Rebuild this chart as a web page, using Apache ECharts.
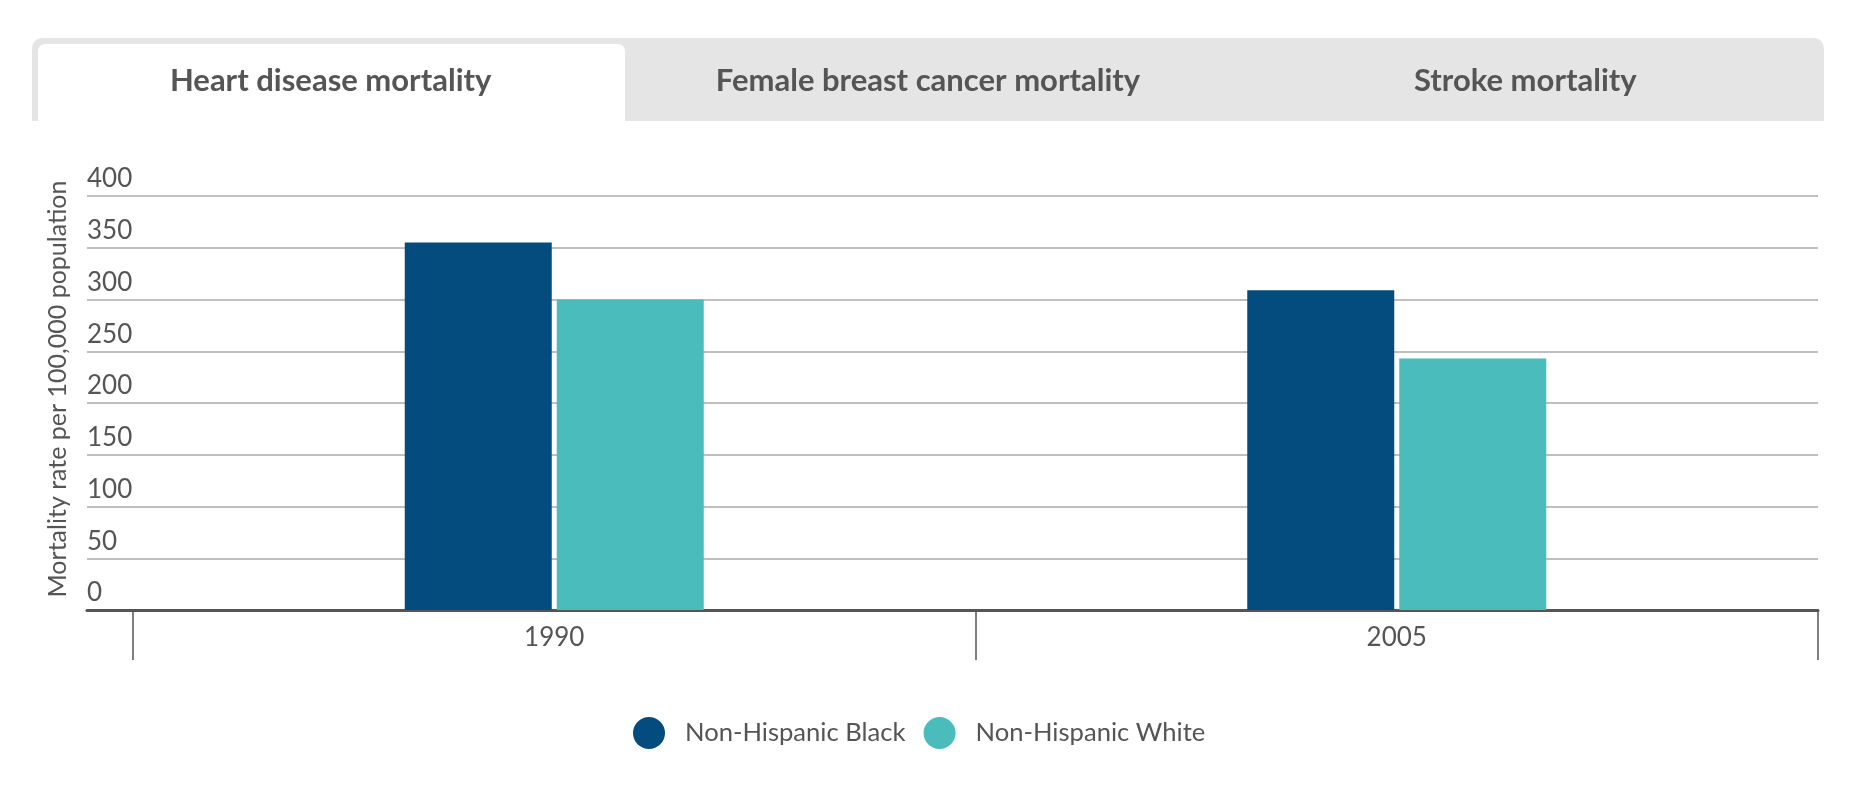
<!DOCTYPE html>
<html>
<head>
<meta charset="utf-8">
<script src="https://cdn.jsdelivr.net/npm/echarts@6/dist/echarts.min.js"></script>
<style>
html,body{margin:0;padding:0;background:#fff;}
#chart{width:1860px;height:802px;}
</style>
</head>
<body>
<div id="chart"></div>
<script>
const categories = ['1990', '2005'];
const seriesNames = ['Non-Hispanic Black', 'Non-Hispanic White'];
const blackValues = [355, 309];
const whiteValues = [300, 243];
const yTicks = [0, 50, 100, 150, 200, 250, 300, 350, 400];
const tabLabels = ['Heart disease mortality', 'Female breast cancer mortality', 'Stroke mortality'];
const yAxisTitle = 'Mortality rate per 100,000 population';

const FONT = 'Lato, "Open Sans", sans-serif';
const TEXT = '#555555';
const colors = ['#054c7e', '#4bbcbc'];

const chart = echarts.init(document.getElementById('chart'));

const barLeft = 32, barRight = 1824, tabTop = 38, tabBottom = 121;
const tabW = (barRight - barLeft) / 3;
const graphics = [
  { type: 'rect', shape: { x: barLeft, y: tabTop, width: barRight - barLeft, height: tabBottom - tabTop, r: [10, 10, 0, 0] }, style: { fill: '#e5e5e5' }, silent: true },
  { type: 'rect', shape: { x: 38, y: 44, width: 587, height: tabBottom - 44, r: [7, 7, 0, 0] }, style: { fill: '#ffffff' }, silent: true }
];
tabLabels.forEach((t, i) => {
  graphics.push({
    type: 'text', x: barLeft + tabW * (i + 0.5), y: 81,
    style: { text: t, fill: TEXT, font: 'bold 31px ' + FONT, align: 'center', verticalAlign: 'middle' },
    silent: true
  });
});

chart.setOption({
  animation: false,
  textStyle: { fontFamily: FONT },
  graphic: graphics,
  grid: [
    { left: 87, right: 42, top: 196, bottom: 192 },
    { left: 133, right: 42, top: 196, bottom: 192 }
  ],
  xAxis: [
    { type: 'category', gridIndex: 0, data: categories, axisLine: { show: true, lineStyle: { color: '#555555', width: 3 } }, axisTick: { show: false }, axisLabel: { show: false }, splitLine: { show: false } },
    { type: 'category', gridIndex: 1, data: categories, axisLine: { show: false },
      axisTick: { show: true, length: 50, interval: 0, lineStyle: { color: '#555555', width: 1.5 } },
      axisLabel: { color: TEXT, fontSize: 26, fontFamily: FONT, margin: 15 } }
  ],
  yAxis: [
    { type: 'value', gridIndex: 0, min: 0, max: 400, interval: 50,
      name: yAxisTitle, nameLocation: 'middle', nameGap: 17, nameRotate: 90,
      nameTextStyle: { color: TEXT, fontSize: 25, fontFamily: FONT, padding: [0, 0, 0, 28] },
      axisLine: { show: false }, axisTick: { show: false },
      axisLabel: { inside: true, margin: 0, verticalAlign: 'bottom', align: 'left', color: TEXT, fontSize: 26, fontFamily: FONT, padding: [0, 0, 4, 0],
        formatter: v => yTicks.includes(v) ? String(v) : '' },
      splitLine: { show: true, lineStyle: { color: '#aaaaaa', width: 1.5 } } },
    { type: 'value', gridIndex: 1, min: 0, max: 400, interval: 50, show: false, splitLine: { show: false } }
  ],
  legend: {
    left: 628, top: 712, icon: 'circle', itemWidth: 32, itemHeight: 32, itemGap: 18,
    data: seriesNames,
    textStyle: { color: TEXT, fontSize: 25.6, fontFamily: FONT, padding: [0, 0, 0, 15] }
  },
  series: [
    { name: seriesNames[0], type: 'bar', xAxisIndex: 1, yAxisIndex: 1, data: blackValues, barWidth: 147, barGap: '3.4%', itemStyle: { color: colors[0] } },
    { name: seriesNames[1], type: 'bar', xAxisIndex: 1, yAxisIndex: 1, data: whiteValues, barWidth: 147, barGap: '3.4%', itemStyle: { color: colors[1] } }
  ]
});
</script>
</body>
</html>
